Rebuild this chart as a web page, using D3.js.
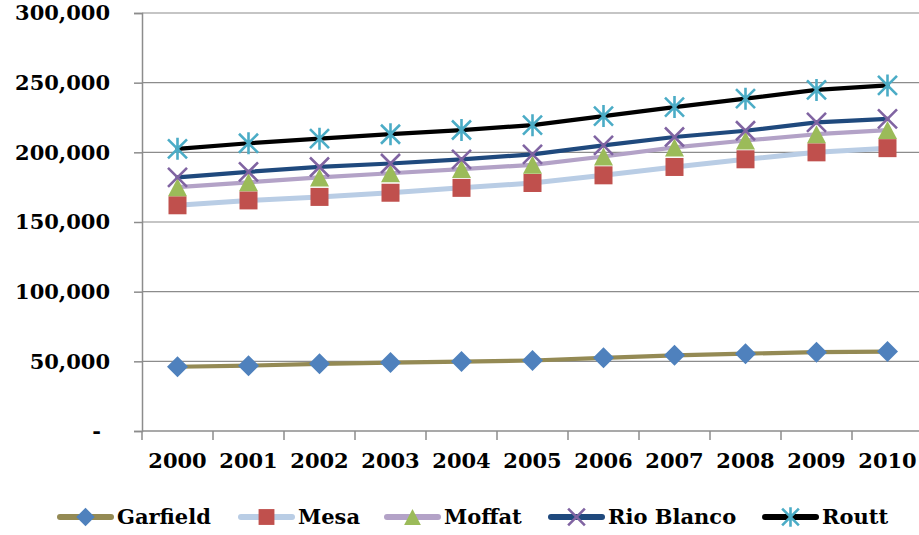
<!DOCTYPE html>
<html>
<head>
<meta charset="utf-8">
<script src="https://cdn.jsdelivr.net/npm/d3@7"></script>
<style>
  html, body { margin: 0; padding: 0; background: #fff; }
  svg { display: block; }
  text { font-family: "DejaVu Serif", serif; font-weight: bold; fill: #000; }
</style>
</head>
<body>
<svg id="chart" width="919" height="535"></svg>
<script>
// Population by county, 2000–2010
const years = ["2000","2001","2002","2003","2004","2005","2006","2007","2008","2009","2010"];
const yTicks = [0, 50000, 100000, 150000, 200000, 250000, 300000];

const garfield  = [46100, 46900, 48200, 49100, 49800, 50600, 52500, 54300, 55500, 56600, 57000];
const mesa      = [162000, 165500, 168000, 171000, 174500, 178000, 183500, 189500, 195000, 200000, 203000];
const moffat    = [175000, 178500, 182000, 185000, 188000, 191000, 197000, 203500, 208500, 213000, 216000];
const rioBlanco = [182000, 186000, 189500, 192000, 195000, 198500, 205000, 211000, 215500, 221500, 224000];
const routt     = [202500, 206500, 209800, 213000, 216000, 219500, 226000, 232500, 238500, 244800, 248000];

const series = [
  { name: "Garfield",   values: garfield,  line: "#948A54", marker: "diamond",  mcolor: "#4F81BD" },
  { name: "Mesa",       values: mesa,      line: "#B9CDE5", marker: "square",   mcolor: "#C0504D" },
  { name: "Moffat",     values: moffat,    line: "#B3A2C7", marker: "triangle", mcolor: "#9BBB59" },
  { name: "Rio Blanco", values: rioBlanco, line: "#1F497D", marker: "x",        mcolor: "#8064A2" },
  { name: "Routt",      values: routt,     line: "#000000", marker: "star",     mcolor: "#4BACC6" }
];

const svg = d3.select("#chart");
const plot = { left: 142, right: 923, top: 13, bottom: 431 };

const x = d3.scaleBand().domain(years).range([plot.left, plot.right]).padding(0);
const y = d3.scaleLinear().domain([0, 300000]).range([plot.bottom, plot.top]);
const cx = d => x(d) + x.bandwidth() / 2;

// horizontal gridlines
svg.append("g")
  .selectAll("line")
  .data(yTicks.filter(t => t > 0))
  .join("line")
  .attr("x1", plot.left).attr("x2", plot.right)
  .attr("y1", d => y(d)).attr("y2", d => y(d))
  .attr("stroke", "#8c8c8c").attr("stroke-width", 1.2);

// y axis
const fmt = d3.format(",");
const yAxis = svg.append("g")
  .attr("transform", `translate(${plot.left},0)`)
  .call(d3.axisLeft(y).tickValues(yTicks).tickSize(8).tickPadding(24)
    .tickFormat(d => d === 0 ? "-" : fmt(d)));
yAxis.select(".domain").attr("stroke", "#8c8c8c").attr("stroke-width", 1.5);
yAxis.selectAll(".tick line").attr("stroke", "#8c8c8c").attr("stroke-width", 1.5);
yAxis.selectAll(".tick text")
  .attr("font-size", 21)
  .attr("font-family", "DejaVu Serif")
  .attr("font-weight", "bold")
  .attr("fill", "#000")
  .attr("dx", d => d === 0 ? -9 : 0);

// x axis: labels centered on bands, ticks on band boundaries
const xAxis = svg.append("g")
  .attr("transform", `translate(0,${plot.bottom})`)
  .call(d3.axisBottom(x).tickSize(0).tickPadding(22));
xAxis.select(".domain").remove();
xAxis.selectAll(".tick text")
  .attr("font-size", 21)
  .attr("font-family", "DejaVu Serif")
  .attr("font-weight", "bold")
  .attr("fill", "#000");
xAxis.append("line")
  .attr("x1", plot.left).attr("x2", plot.right)
  .attr("stroke", "#8c8c8c").attr("stroke-width", 1.5);
xAxis.append("g").selectAll("line")
  .data(years.concat(["end"]))
  .join("line")
  .attr("x1", (d, i) => plot.left + i * x.step())
  .attr("x2", (d, i) => plot.left + i * x.step())
  .attr("y1", 0).attr("y2", 9)
  .attr("stroke", "#8c8c8c").attr("stroke-width", 1.5);

// marker drawing
function drawMarker(g, type, color, s) {
  if (type === "diamond") {
    const h = 10.5 * s;
    g.append("path").attr("d", `M0,${-h}L${h},0L0,${h}L${-h},0Z`).attr("fill", color);
  } else if (type === "square") {
    const h = 9 * s;
    g.append("rect").attr("x", -h).attr("y", -h).attr("width", 2 * h).attr("height", 2 * h).attr("fill", color);
  } else if (type === "triangle") {
    const w = 9.5 * s, h = 9 * s;
    g.append("path").attr("d", `M0,${-h}L${w},${h}L${-w},${h}Z`).attr("fill", color);
  } else if (type === "x") {
    const h = 9.5 * s;
    g.append("path").attr("d", `M${-h},${-h}L${h},${h}M${-h},${h}L${h},${-h}`)
      .attr("stroke", color).attr("stroke-width", 2.6).attr("fill", "none");
  } else if (type === "star") {
    const h = 9.5 * s, v = 11 * s;
    g.append("path").attr("d", `M${-h},${-h}L${h},${h}M${-h},${h}L${h},${-h}M0,${-v}L0,${v}`)
      .attr("stroke", color).attr("stroke-width", 2.6).attr("fill", "none");
  }
}

// lines
const lineGen = d3.line().x((d, i) => cx(years[i])).y(d => y(d));
svg.append("g").selectAll("path")
  .data(series)
  .join("path")
  .attr("d", s => lineGen(s.values))
  .attr("fill", "none")
  .attr("stroke", s => s.line)
  .attr("stroke-width", s => s.name === "Mesa" ? 5 : 4.2)
  .attr("stroke-linejoin", "round")
  .attr("stroke-linecap", "round");

// markers
series.forEach(s => {
  s.values.forEach((v, i) => {
    const g = svg.append("g").attr("transform", `translate(${cx(years[i])},${y(v)})`);
    drawMarker(g, s.marker, s.mcolor, 1);
  });
});

// legend
const legendItems = [
  { x: 57 }, { x: 238 }, { x: 384 }, { x: 548 }, { x: 762 }
];
const legY = 517;
series.forEach((s, i) => {
  const lx = legendItems[i].x;
  const g = svg.append("g");
  g.append("line")
    .attr("x1", lx + 3).attr("x2", lx + 54)
    .attr("y1", legY).attr("y2", legY)
    .attr("stroke", s.line).attr("stroke-width", 6).attr("stroke-linecap", "round");
  const mg = g.append("g").attr("transform", `translate(${lx + 28.5},${legY})`);
  drawMarker(mg, s.marker, s.mcolor, 0.88);
  g.append("text")
    .attr("x", lx + 60).attr("y", legY)
    .attr("dy", "0.35em")
    .attr("font-size", 21)
    .text(s.name);
});
</script>
</body>
</html>
